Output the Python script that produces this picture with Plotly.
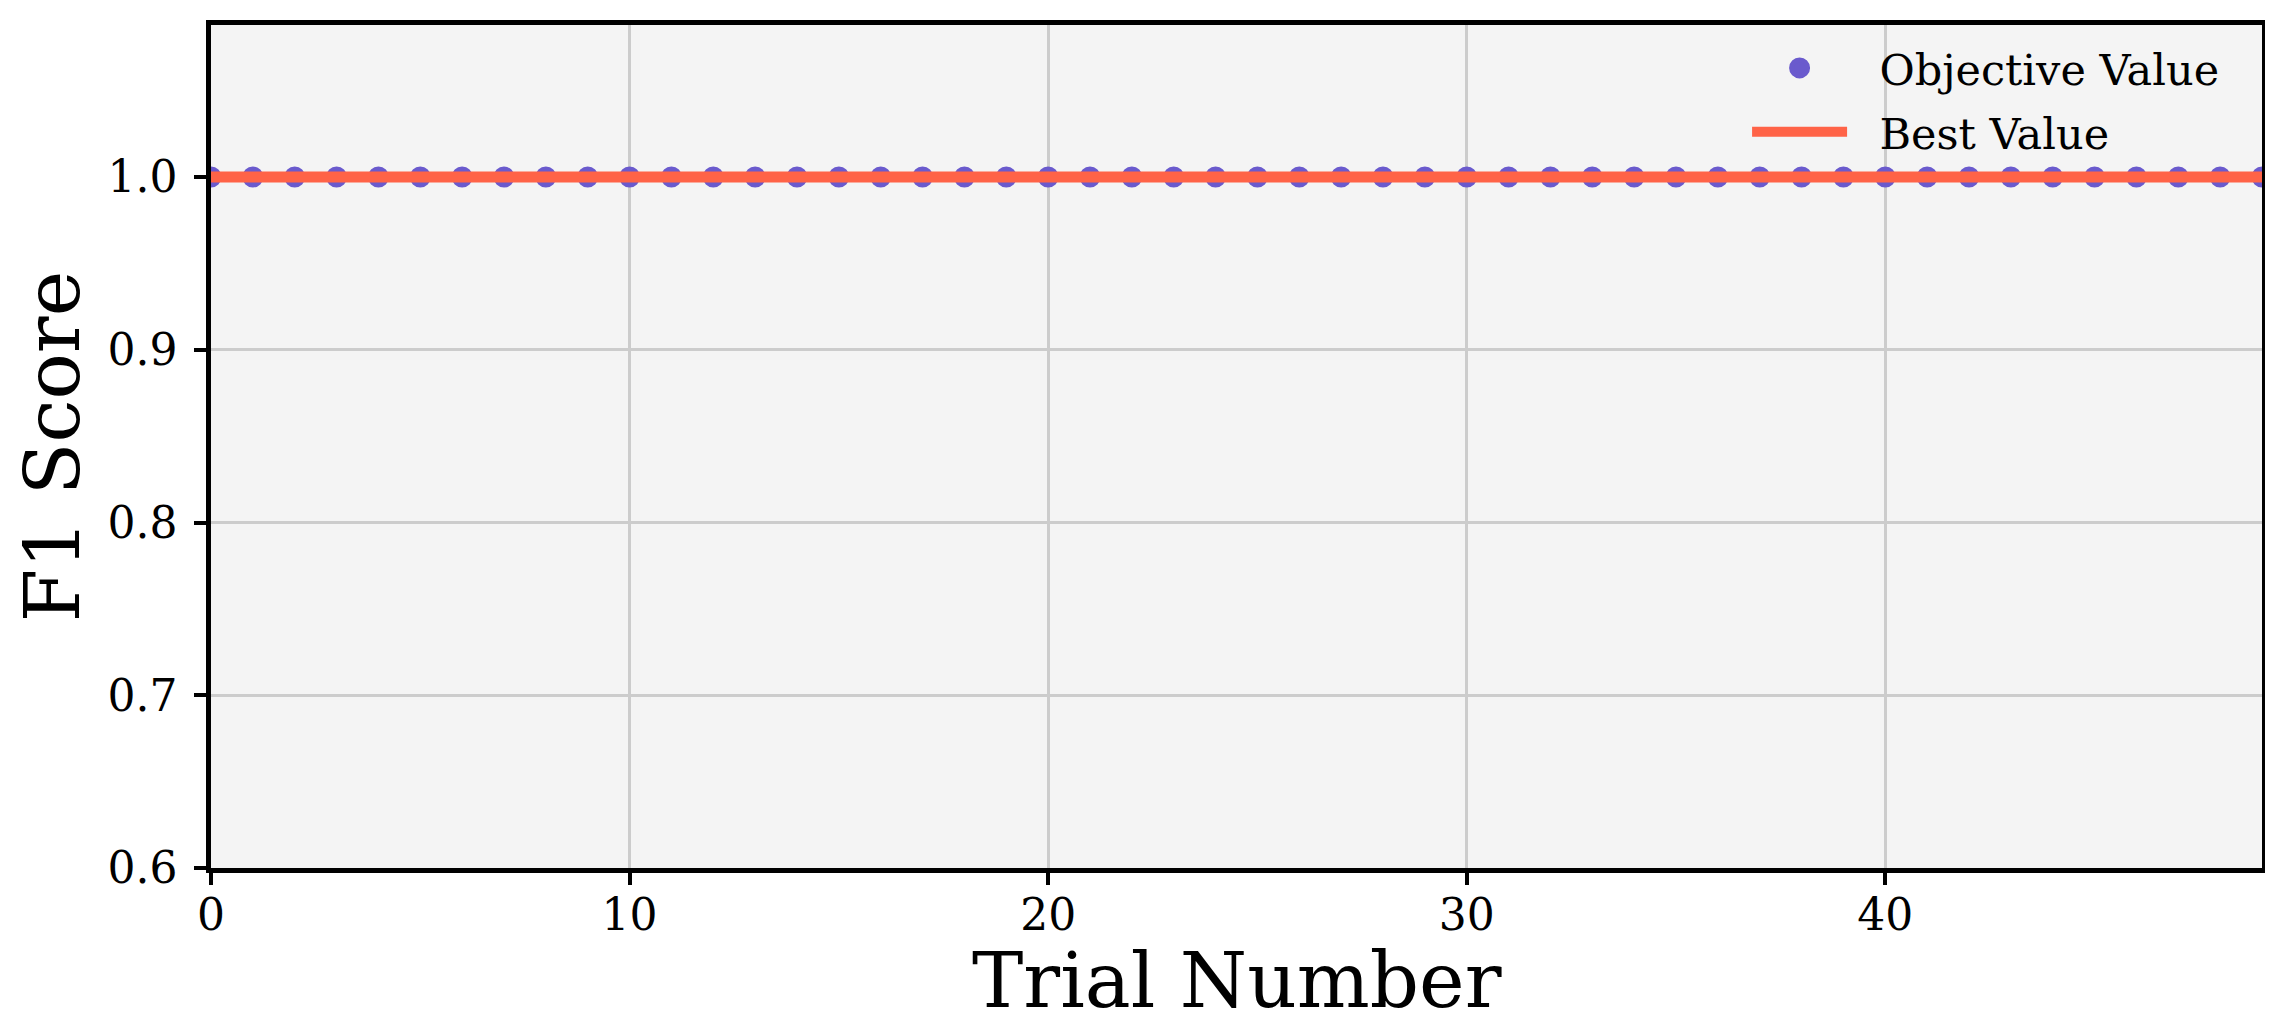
import plotly.graph_objects as go

trials = list(range(50))
objective_values = [1.0] * 50
best_values = [1.0] * 50

x_ticks = [0, 10, 20, 30, 40]
y_ticks = [0.6, 0.7, 0.8, 0.9, 1.0]
y_tick_labels = ["0.6", "0.7", "0.8", "0.9", "1.0"]

FONT = "DejaVu Serif"
GAP = "\u00a0\u00a0"

fig = go.Figure()
fig.add_trace(go.Scatter(
    x=trials, y=objective_values, mode="markers", name=GAP + "Objective Value",
    legendgroup="a",
    marker=dict(color="#6A5ACD", size=16, line=dict(width=5, color="#6A5ACD")),
))
fig.add_trace(go.Scatter(
    x=trials, y=best_values, mode="lines", name=GAP + "Best Value",
    legendgroup="b",
    line=dict(color="#FF6347", width=11),
))

axis_common = dict(
    showline=True, linecolor="black", linewidth=4.5, mirror=True,
    ticks="outside", ticklen=12, tickwidth=4, tickcolor="black",
    showgrid=True, gridcolor="#cccccc", gridwidth=3,
    zeroline=False,
    tickfont=dict(family=FONT, size=44, color="black"),
)

fig.update_xaxes(
    range=[0, 49], tickvals=x_ticks,
    ticklabelstandoff=-8,
    **axis_common,
)
fig.update_yaxes(
    range=[0.6, 1.088], tickvals=y_ticks, ticktext=y_tick_labels,
    title=dict(text="F1 Score", font=dict(family=FONT, size=77, color="black"), standoff=22),
    ticklabelstandoff=8,
    **axis_common,
)

fig.add_annotation(
    text="Trial Number", xref="paper", yref="paper", x=0.5, y=0,
    xanchor="center", yanchor="middle", yshift=-112, showarrow=False,
    font=dict(family=FONT, size=77, color="black"),
)

fig.update_layout(
    width=2273, height=1024,
    margin=dict(l=203, r=19, t=17, b=164),
    plot_bgcolor="#f4f4f4", paper_bgcolor="white",
    font=dict(family=FONT, color="black"),
    legend=dict(
        x=0.982, y=0.99, xanchor="right", yanchor="top",
        bgcolor="rgba(0,0,0,0)", font=dict(family=FONT, size=43, color="black"),
        itemwidth=95, tracegroupgap=5,
    ),
)

fig.write_html("out.html")
